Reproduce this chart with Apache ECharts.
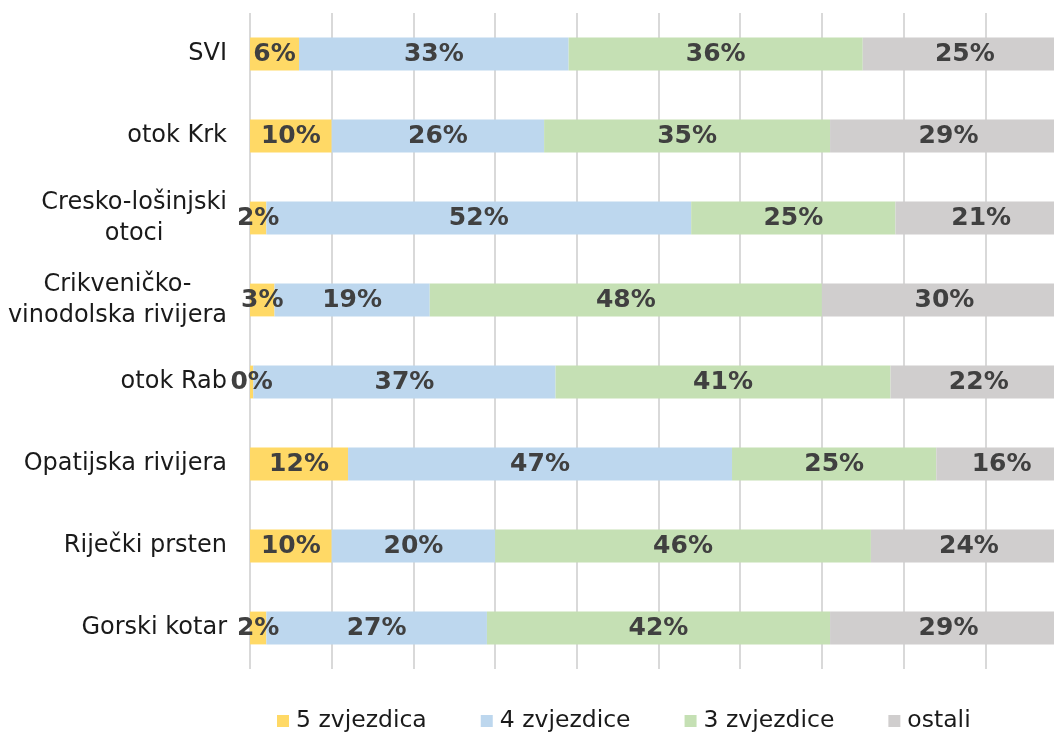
<!DOCTYPE html>
<html>
<head>
<meta charset="utf-8">
<script src="https://cdn.jsdelivr.net/npm/echarts@6/dist/echarts.min.js"></script>
<style>
  html, body { margin: 0; padding: 0; background: #fff; }
  #chart { width: 1054px; height: 733px; }
</style>
</head>
<body>
<div id="chart"></div>
<script>
const categories = [
  'SVI',
  'otok Krk',
  'Cresko-lošinjski\notoci',
  'Crikveničko-\nvinodolska rivijera',
  'otok Rab',
  'Opatijska rivijera',
  'Riječki prsten',
  'Gorski kotar'
]
const seriesNames = ['5 zvjezdica', '4 zvjezdice', '3 zvjezdice', 'ostali']
const pet = [6, 10, 2, 3, 0.4, 12, 10, 2]
const cetiri = [33, 26, 52, 19, 37, 47, 20, 27]
const tri = [36, 35, 25, 48, 41, 25, 46, 42]
const ostali = [25, 29, 21, 30, 22, 16, 24, 29]
const colors = ['#FFD966', '#BDD7EE', '#C5E0B4', '#D0CECE']

const chart = echarts.init(document.getElementById('chart'))

// stupci se slazu do 100%
const makeSeries = (name, data, color) => ({
  name: name,
  type: 'bar',
  stack: 'ukupno',
  data: data,
  barCategoryGap: '60%',
  itemStyle: { color: color },
  label: {
    show: true,
    position: 'inside',
    formatter: p => Math.round(p.value) + '%',
    fontFamily: 'DejaVu Sans',
    fontWeight: 'bold',
    fontSize: 25,
    color: '#404040'
  }
})

chart.setOption({
  animation: false,
  textStyle: { fontFamily: 'DejaVu Sans' },
  grid: {
    left: 250,
    top: 13,
    width: 817,
    bottom: 64,
    outerBoundsMode: 'none',
    containLabel: false
  },
  legend: {
    data: seriesNames,
    left: 277,
    top: 709,
    padding: 0,
    icon: 'rect',
    itemWidth: 12,
    itemHeight: 12,
    itemGap: 54,
    textStyle: { fontFamily: 'DejaVu Sans', fontSize: 23.5, color: '#1a1a1a', padding: [0, 0, 0, 2] }
  },
  xAxis: {
    type: 'value',
    min: 0,
    max: 100,
    interval: 10,
    axisLabel: { show: false },
    axisLine: { show: false },
    axisTick: { show: false },
    splitLine: { show: true, lineStyle: { color: '#D9D9D9', width: 2 } }
  },
  yAxis: {
    type: 'category',
    inverse: true,
    data: categories,
    axisLine: { show: false },
    axisTick: { show: false },
    axisLabel: {
      margin: 23,
      formatter: v => v.split('\n').map(s => '{c|' + s + '}').join('\n'),
      rich: {
        c: {
          align: 'center',
          fontFamily: 'DejaVu Sans',
          fontSize: 24,
          color: '#1a1a1a',
          lineHeight: 31
        }
      }
    }
  },
  series: [
    makeSeries(seriesNames[0], pet, colors[0]),
    makeSeries(seriesNames[1], cetiri, colors[1]),
    makeSeries(seriesNames[2], tri, colors[2]),
    makeSeries(seriesNames[3], ostali, colors[3])
  ]
})
</script>
</body>
</html>
